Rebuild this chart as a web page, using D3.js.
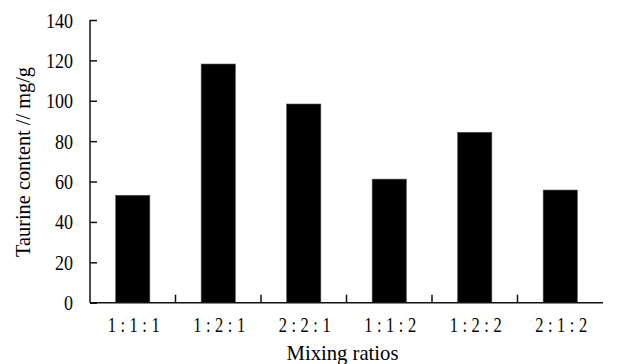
<!DOCTYPE html>
<html>
<head>
<meta charset="utf-8">
<script src="https://cdn.jsdelivr.net/npm/d3@7"></script>
<style>
  body { margin: 0; background: #fff; }
  text { font-family: "Liberation Serif", "Times New Roman", serif; fill: #000; }
</style>
</head>
<body>
<script>
const categories = ['1:1:1', '1:2:1', '2:2:1', '1:1:2', '1:2:2', '2:1:2']
const values = [53.2, 118.2, 98.4, 61.2, 84.4, 55.8]
const yTicks = [0, 20, 40, 60, 80, 100, 120, 140]

const w = 623
const h = 364
const padLeft = 90
const padRight = 603
const padTop = 20
const baseY = 302.7

const svg = d3.select('body')
     .append('svg')
     .attr('width', w)
     .attr('height', h)

const xScale = d3.scaleBand()
     .domain(categories)
     .range([padLeft, padRight])

const yScale = d3.scaleLinear()
     .domain([0, 140])
     .range([baseY, padTop])

// bars, about 40% of the band
const barW = xScale.bandwidth() * 0.4
svg.selectAll('rect.bar')
     .data(values)
     .enter()
     .append('rect')
     .attr('class', 'bar')
     .attr('x', (d, i) => xScale(categories[i]) + (xScale.bandwidth() - barW) / 2)
     .attr('y', d => yScale(d))
     .attr('width', barW)
     .attr('height', d => baseY - yScale(d))
     .attr('fill', '#000')
     .attr('stroke', '#555')
     .attr('stroke-width', 0.6)

// y axis, ticks pointing inward
const yAxis = d3.axisRight(yScale).tickValues(yTicks).tickSize(7).tickFormat('')
const yg = svg.append('g')
     .attr('transform', 'translate(' + padLeft + ',0)')
     .call(yAxis)
yg.select('.domain').attr('d', `M0,${padTop}V${baseY}`)
yg.selectAll('path, line').attr('stroke', '#111').attr('stroke-width', 1.5)

// narrow tall digits like the original font: squeeze with textLength
yg.selectAll('.ylab')
     .data(yTicks)
     .enter()
     .append('text')
     .attr('class', 'ylab')
     .attr('x', -17)
     .attr('y', d => yScale(d) + 7.5)
     .attr('text-anchor', 'end')
     .attr('font-size', 22)
     .attr('textLength', d => String(d).length * 9)
     .attr('lengthAdjust', 'spacingAndGlyphs')
     .text(d => d)

// x axis: baseline with upward ticks between the bands
const xg = svg.append('g')
xg.append('line')
     .attr('x1', padLeft).attr('x2', padRight)
     .attr('y1', baseY).attr('y2', baseY)
     .attr('stroke', '#111').attr('stroke-width', 1.5)
xg.selectAll('.xtick')
     .data(categories.slice(1))
     .enter()
     .append('line')
     .attr('x1', d => xScale(d)).attr('x2', d => xScale(d))
     .attr('y1', baseY).attr('y2', baseY - 8)
     .attr('stroke', '#111').attr('stroke-width', 1.5)

// category labels: condensed glyphs, wide spacing
xg.selectAll('.xlab')
     .data(categories)
     .enter()
     .append('text')
     .attr('transform', d => 'translate(' + (xScale(d) + xScale.bandwidth() / 2 - 25) + ',332) scale(0.75,1)')
     .attr('font-size', 22)
     .attr('letter-spacing', 6)
     .text(d => d)

svg.append('text')
     .attr('x', 286.5)
     .attr('y', 360)
     .attr('font-size', 21)
     .attr('textLength', 112)
     .attr('lengthAdjust', 'spacingAndGlyphs')
     .text('Mixing ratios')

svg.append('text')
     .attr('transform', 'translate(30,257) rotate(-90)')
     .attr('font-size', 20)
     .attr('textLength', 190)
     .attr('lengthAdjust', 'spacingAndGlyphs')
     .text('Taurine content // mg/g')
</script>
</body>
</html>
